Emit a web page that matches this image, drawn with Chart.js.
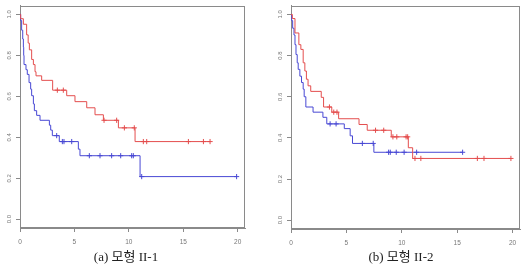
<!DOCTYPE html>
<html>
<head>
<meta charset="utf-8">
<script src="https://cdn.jsdelivr.net/npm/chart.js@4/dist/chart.umd.min.js"></script>
<style>
  html, body { margin:0; padding:0; background:#fff; }
  body { width:525px; height:264px; position:relative; overflow:hidden; }
  canvas { position:absolute; top:0; }
  .cap { position:absolute; font-family:"Liberation Serif","Noto Sans CJK KR",serif; font-size:13px; color:#222; white-space:nowrap; transform:translateX(-50%); line-height:13px; }
</style>
</head>
<body>
<canvas id="ca" width="262" height="264" style="left:0"></canvas>
<canvas id="cb" width="263" height="264" style="left:262px"></canvas>
<div class="cap" id="capA" style="left:126px; top:250px;"></div>
<div class="cap" id="capB" style="left:401px; top:250px;"></div>
<script>
// ---- data ----
const xTicks = [0, 5, 10, 15, 20];
const yTicks = [0, 0.2, 0.4, 0.6, 0.8, 1.0];
const captions = ["(a) 모형 II-1", "(b) 모형 II-2"];

// Panel (a) model II-1
const redTimesA = [0.06,0.31,0.61,0.75,0.86,1.07,1.23,1.38,1.47,1.99,3.0,4.29,5.05,6.13,6.89,7.66,9.04,10.57];
const redSurvA  = [0.979,0.952,0.90,0.86,0.827,0.78,0.755,0.72,0.70,0.678,0.63,0.603,0.574,0.544,0.51,0.483,0.446,0.379];
const redCensA  = [3.43,3.98,7.72,8.88,9.59,10.5,11.33,11.64,15.47,16.85,17.46];
const blueTimesA = [0.06,0.15,0.25,0.31,0.34,0.37,0.55,0.67,0.83,0.98,1.07,1.23,1.32,1.53,1.84,2.70,2.82,2.97,3.61,5.36,5.51,11.03];
const blueSurvA  = [0.97,0.923,0.88,0.84,0.80,0.755,0.73,0.707,0.667,0.635,0.603,0.563,0.53,0.507,0.483,0.459,0.435,0.408,0.379,0.342,0.31,0.208];
const blueCensA  = [3.37,3.89,4.04,4.75,6.37,7.35,8.42,9.25,10.26,10.41,11.18,19.9];

// Panel (b) model II-2
const redTimesB = [0.12,0.36,0.71,0.89,1.10,1.25,1.39,1.54,1.78,2.73,2.94,3.68,4.30,6.14,6.88,9.05,10.59,10.98];
const redSurvB  = [0.98,0.91,0.853,0.83,0.765,0.725,0.685,0.653,0.626,0.597,0.55,0.525,0.493,0.465,0.437,0.405,0.352,0.30];
const redCensB  = [3.47,3.86,4.15,7.63,8.37,9.20,9.55,10.39,10.53,11.19,11.72,16.82,17.42,19.85];
const blueTimesB = [0.06,0.15,0.27,0.36,0.45,0.56,0.65,0.80,0.95,1.10,1.19,1.34,1.99,2.88,3.23,4.81,5.34,5.55,7.48];
const blueSurvB  = [0.97,0.933,0.90,0.853,0.805,0.765,0.733,0.70,0.669,0.637,0.60,0.55,0.525,0.50,0.468,0.445,0.41,0.373,0.33];
const blueCensB  = [3.53,4.07,6.44,7.42,8.81,8.96,9.50,10.21,11.34,15.49];

document.getElementById('capA').textContent = captions[0];
document.getElementById('capB').textContent = captions[1];

// ---- helpers ----
const RED = 'rgb(228,78,78)';
const BLUE = 'rgb(72,72,212)';
const AXIS = '#8a8a8a';

function survAt(times, surv, t) {
  let s = 1;
  for (let i = 0; i < times.length; i++) { if (times[i] <= t) s = surv[i]; }
  return s;
}
function stepCurve(times, surv, cens) {
  const pts = [{x:0, y:1}];
  times.forEach((t, i) => pts.push({x:t, y:surv[i]}));
  const lastT = Math.max(times[times.length-1], cens.length ? Math.max(...cens) : 0);
  pts.push({x:lastT, y:surv[surv.length-1]});
  return pts;
}
function censPts(times, surv, cens) {
  return cens.map(t => ({x:t, y:survAt(times, surv, t)}));
}

const boxPlugin = {
  id: 'box',
  beforeDatasetsDraw(chart) {
    const a = chart.chartArea, c = chart.ctx;
    c.save();
    c.strokeStyle = AXIS; c.lineWidth = 1;
    c.strokeRect(Math.round(a.left)+0.5, Math.round(a.top)+0.5, Math.round(a.right-a.left)-1, Math.round(a.bottom-a.top)-1);
    c.restore();
  }
};

function makeChart(id, rT, rS, rC, bT, bS, bC, yW, pad) {
  const lineDs = (data, col) => ({ data, borderColor: col, borderWidth: 1, pointRadius: 0, stepped: 'before', fill: false });
  const censDs = (data, col) => ({ data, borderColor: col, backgroundColor: col, borderWidth: 1, showLine: false, pointStyle: 'cross', pointRadius: 2.6 });
  return new Chart(document.getElementById(id), {
    type: 'line',
    data: { datasets: [
      lineDs(stepCurve(rT, rS, rC), RED),
      lineDs(stepCurve(bT, bS, bC), BLUE),
      censDs(censPts(rT, rS, rC), RED),
      censDs(censPts(bT, bS, bC), BLUE)
    ]},
    options: {
      responsive: false, animation: false, devicePixelRatio: 1,
      layout: { padding: pad },
      plugins: { legend: { display: false }, tooltip: { enabled: false } },
      scales: {
        x: {
          type: 'linear', min: 0, max: 20.67,
          afterBuildTicks: s => { s.ticks = xTicks.map(v => ({value: v})); },
          afterFit: s => { s.height = 16; },
          grid: { display: true, drawOnChartArea: false, drawTicks: true, tickLength: 4, color: AXIS },
          border: { display: true, color: AXIS },
          ticks: { padding: 6, color: '#777', font: { family: 'Liberation Sans', size: 6.5 }, maxRotation: 0, minRotation: 0 }
        },
        y: {
          type: 'linear', min: -0.043, max: 1.043,
          afterBuildTicks: s => { s.ticks = yTicks.map(v => ({value: v})); },
          afterFit: s => { s.width = yW; },
          grid: { display: true, drawOnChartArea: false, drawTicks: true, tickLength: 4, color: AXIS },
          border: { display: true, color: AXIS },
          ticks: { padding: 2, crossAlign: 'center', minRotation: 90, maxRotation: 90, color: '#777',
                   font: { family: 'Liberation Sans', size: 6 }, callback: v => Number(v).toFixed(1) }
        }
      }
    },
    plugins: [boxPlugin]
  });
}

makeChart('ca', redTimesA, redSurvA, redCensA, blueTimesA, blueSurvA, blueCensA, 20, {left:0, right:17, top:3, bottom:20});
makeChart('cb', redTimesB, redSurvB, redCensB, blueTimesB, blueSurvB, blueCensB, 29, {left:0, right:2, top:2, bottom:19});
</script>
</body>
</html>
